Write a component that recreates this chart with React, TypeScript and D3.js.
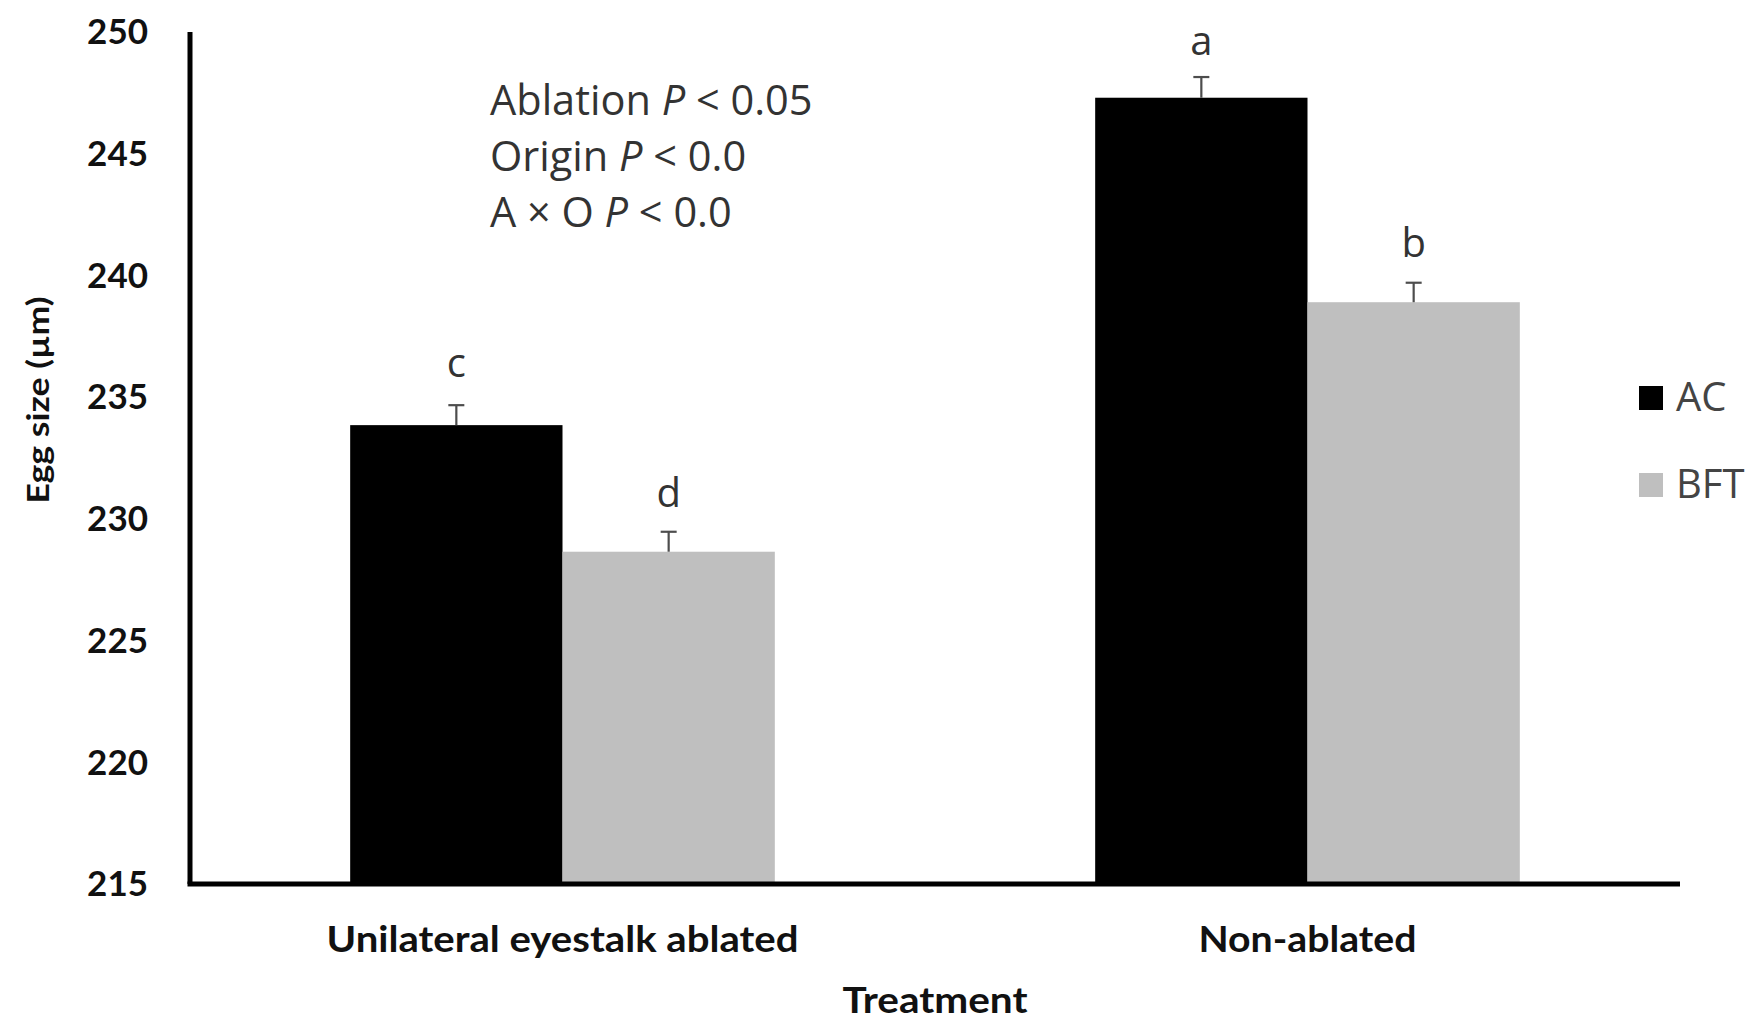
import React from "react";
import * as d3 from "d3";

const categories = ["Unilateral eyestalk ablated", "Non-ablated"];
const seriesNames = ["AC", "BFT"];
const seriesColors = ["#000000", "#bfbfbf"];
const acValues = [233.85, 247.3];
const bftValues = [228.65, 238.9];
const acErrors = [0.82, 0.85];
const bftErrors = [0.82, 0.8];
const acLetters = ["c", "a"];
const bftLetters = ["d", "b"];
const yTicks = [215, 220, 225, 230, 235, 240, 245, 250];
const annotationLines = [
  { pre: "Ablation ", p: "P", post: " < 0.05" },
  { pre: "Origin ", p: "P", post: " < 0.0" },
  { pre: "A × O ", p: "P", post: " < 0.0" },
];

const W = 1754;
const H = 1029;
const M = { left: 190, right: 1680, top: 32, bottom: 884 };

export default function App() {
  const x0 = d3.scaleBand<string>().domain(categories).range([M.left, M.right]).padding(0);
  const groupW = x0.bandwidth() * 0.57;
  const x1 = d3.scaleBand<string>().domain(seriesNames).range([0, groupW]).padding(0);
  const y = d3.scaleLinear().domain([215, 250]).range([M.bottom, M.top]);
  const values = [acValues, bftValues];
  const errors = [acErrors, bftErrors];
  const letters = [acLetters, bftLetters];
  const letterGap = [[28, 22], [25, 26]];

  return (
    <svg width={W} height={H} style={{ position: "absolute", left: 0, top: 0, background: "#fff" }}>
      {/* bars */}
      {categories.map((c, ci) => {
        const gx = (x0(c) as number) + (x0.bandwidth() - groupW) / 2;
        return (
          <g key={c}>
            {seriesNames.map((s, si) => {
              const v = values[si][ci];
              const e = errors[si][ci];
              const bx = gx + (x1(s) as number);
              const cx = bx + x1.bandwidth() / 2;
              return (
                <g key={s}>
                  <rect x={bx} y={y(v)} width={x1.bandwidth()} height={y(215) - y(v)} fill={seriesColors[si]} />
                  <line x1={cx} x2={cx} y1={y(v)} y2={y(v + e)} stroke="#4d4d4d" strokeWidth={2.2} />
                  <line x1={cx - 8} x2={cx + 8} y1={y(v + e)} y2={y(v + e)} stroke="#4d4d4d" strokeWidth={2.2} />
                  <text x={cx} y={y(v + e) - letterGap[si][ci]} textAnchor="middle" fontFamily="Open Sans" fontSize={40} fill="#333">
                    {letters[si][ci]}
                  </text>
                </g>
              );
            })}
          </g>
        );
      })}
      {/* axes */}
      <line x1={M.left} x2={M.left} y1={M.top} y2={M.bottom} stroke="#000" strokeWidth={5} />
      <line x1={M.left - 2.5} x2={M.right} y1={M.bottom} y2={M.bottom} stroke="#000" strokeWidth={5} />
      {yTicks.map((t) => (
        <text key={t} x={148} y={y(t)} dy="0.35em" textAnchor="end" fontFamily="Lato" fontWeight="bold" fontSize={35} fill="#111">
          {t}
        </text>
      ))}
      {categories.map((c) => (
        <text
          key={c}
          x={(x0(c) as number) + x0.bandwidth() / 2}
          y={952}
          textAnchor="middle"
          fontFamily="Lato"
          fontWeight="bold"
          fontSize={37}
          fill="#111"
          textLength={c.length > 15 ? 472 : 218}
          lengthAdjust="spacingAndGlyphs"
        >
          {c}
        </text>
      ))}
      <text x={(M.left + M.right) / 2} y={1013} textAnchor="middle" fontFamily="Lato" fontWeight="bold" fontSize={37} fill="#111" textLength={185} lengthAdjust="spacingAndGlyphs">
        Treatment
      </text>
      <text
        transform={`translate(49,400) rotate(-90)`}
        textAnchor="middle"
        fontFamily="Lato"
        fontWeight="bold"
        fontSize={31}
        fill="#111"
        textLength={207}
        lengthAdjust="spacingAndGlyphs"
      >
        Egg size (µm)
      </text>
      {/* annotation */}
      {annotationLines.map((l, i) => (
        <text key={i} x={490} y={115 + i * 56} fontFamily="Open Sans" fontSize={41.5} fill="#333">
          {l.pre}
          <tspan fontStyle="italic">{l.p}</tspan>
          {l.post}
        </text>
      ))}
      {/* legend */}
      {seriesNames.map((s, i) => (
        <g key={s}>
          <rect x={1639} y={386 + i * 87} width={24} height={24} fill={seriesColors[i]} />
          <text x={1676} y={411 + i * 87} fontFamily="Open Sans" fontSize={40} fill="#444">
            {s}
          </text>
        </g>
      ))}
    </svg>
  );
}
